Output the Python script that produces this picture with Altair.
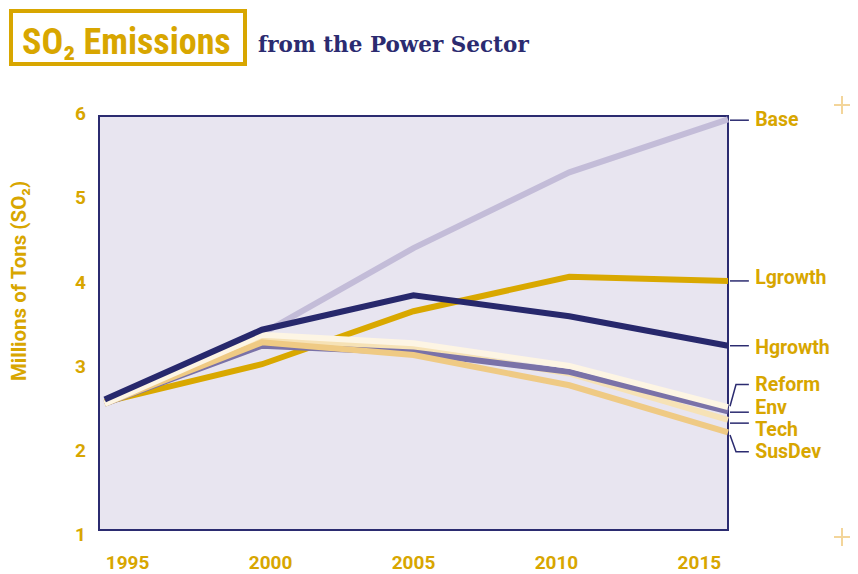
import altair as alt
import pandas as pd

# ---- data ----
years = [1994.2, 1999.7, 2005.0, 2010.45, 2016.0]
# drawing order (bottom to top)
series_names = ["Base", "Lgrowth", "Tech", "Env", "SusDev", "Reform", "Hgrowth"]
base = [2.51, 3.33, 4.35, 5.25, 5.88]
lgrowth = [2.52, 2.97, 3.60, 4.01, 3.96]
tech = [2.50, 3.27, 3.16, 2.86, 2.31]
env = [2.50, 3.19, 3.11, 2.88, 2.41]
susdev = [2.50, 3.23, 3.08, 2.72, 2.16]
reform = [2.50, 3.32, 3.22, 2.95, 2.46]
hgrowth = [2.55, 3.38, 3.79, 3.54, 3.19]
series_colors = ["#c3bcd8", "#d9a800", "#f6e2b6", "#7a72a8", "#efca84", "#fdf5e4", "#27286c"]

label_names = ["Base", "Lgrowth", "Hgrowth", "Reform", "Env", "Tech", "SusDev"]
label_y = [5.87, 3.99, 3.16, 2.72, 2.45, 2.19, 1.93]
leader_start = [5.87, 3.96, 3.19, 2.47, 2.40, 2.27, 2.13]
leader_end = [5.87, 3.96, 3.19, 2.73, 2.40, 2.27, 1.93]
leader_x = [2016.07, 2016.28, 2016.73]
label_x = 2016.95

y_ticks = [1, 2, 3, 4, 5, 6]
x_ticks = [1995, 2000, 2005, 2010, 2015]

GOLD = "#d8a600"
NAVY = "#2b2b70"
FONT = "Roboto, sans-serif"
TITLE_FONT = "Liberation Sans Narrow, Roboto Condensed, Roboto, sans-serif"

xscale = alt.Scale(domain=[1994, 2016], nice=False, zero=False)
yscale = alt.Scale(domain=[1, 5.92], nice=False, zero=False)

values = {"Base": base, "Lgrowth": lgrowth, "SusDev": susdev, "Tech": tech,
          "Env": env, "Reform": reform, "Hgrowth": hgrowth}

layers = []

# grid layer
grid_df = pd.DataFrame({"x": x_ticks})
axis_layer = alt.Chart(grid_df).mark_point(opacity=0).encode(
    x=alt.X("x:Q", scale=xscale, axis=None),
    y=alt.Y(datum=3, scale=yscale, axis=alt.Axis(
        values=[2, 3, 4, 5], grid=True, gridColor="#3c3c82", gridWidth=1.5,
        labels=False, ticks=False, domain=False, title=None)),
)
layers.append(axis_layer)

for name, col in zip(series_names, series_colors):
    df = pd.DataFrame({"year": years, "value": values[name]})
    layers.append(
        alt.Chart(df).mark_line(color=col, strokeWidth=6, strokeCap="butt", strokeJoin="miter").encode(
            x=alt.X("year:Q", scale=xscale, axis=None),
            y=alt.Y("value:Q", scale=yscale, axis=None),
        )
    )

# leader lines
rows = []
for n, s, e in zip(label_names, leader_start, leader_end):
    rows.append({"s": n, "x": leader_x[0], "y": s, "o": 0})
    rows.append({"s": n, "x": leader_x[1], "y": e, "o": 1})
    rows.append({"s": n, "x": leader_x[2], "y": e, "o": 2})
lead_df = pd.DataFrame(rows)
layers.append(
    alt.Chart(lead_df).mark_line(color=NAVY, strokeWidth=1.5).encode(
        x=alt.X("x:Q", scale=xscale, axis=None),
        y=alt.Y("y:Q", scale=yscale, axis=None),
        detail="s:N", order="o:Q",
    )
)

# series labels
lab_df = pd.DataFrame({"name": label_names, "y": label_y, "x": [label_x] * len(label_names)})
layers.append(
    alt.Chart(lab_df).mark_text(align="left", baseline="middle", font=FONT, fontSize=19.5,
                                fontWeight="bold", color=GOLD).encode(
        x=alt.X("x:Q", scale=xscale, axis=None),
        y=alt.Y("y:Q", scale=yscale, axis=None),
        text="name:N",
    )
)

# y tick labels
yt_df = pd.DataFrame({"v": y_ticks, "t": [str(v) for v in y_ticks]})
layers.append(
    alt.Chart(yt_df).mark_text(align="right", baseline="middle", dy=5, font=FONT, fontSize=19,
                               fontWeight="bold", color=GOLD).encode(
        x=alt.value(-13),
        y=alt.Y("v:Q", scale=yscale, axis=None),
        text="t:N",
    )
)

# x tick labels
xt_df = pd.DataFrame({"v": x_ticks, "t": [str(v) for v in x_ticks]})
layers.append(
    alt.Chart(xt_df).mark_text(align="center", baseline="middle", font=FONT, fontSize=19,
                               fontWeight="bold", color=GOLD).encode(
        x=alt.X("v:Q", scale=xscale, axis=None),
        y=alt.value(447),
        text="t:N",
    )
)

# y axis title
layers.append(
    alt.Chart(pd.DataFrame({"t": ["Millions of Tons (SO₂)"]})).mark_text(
        angle=270, align="center", baseline="middle", font=FONT, fontSize=20.5,
        fontWeight="bold", color=GOLD).encode(
        x=alt.value(-79), y=alt.value(165), text="t:N")
)

# title box + titles
layers.append(
    alt.Chart(pd.DataFrame({"a": [0]})).mark_rect(filled=False, stroke=GOLD, strokeWidth=4).encode(
        x=alt.value(-88), x2=alt.value(146), y=alt.value(-105), y2=alt.value(-52))
)
layers.append(
    alt.Chart(pd.DataFrame({"t": ["SO₂ Emissions"]})).mark_text(
        align="left", baseline="alphabetic", font=TITLE_FONT, fontSize=36, fontWeight="bold", color=GOLD).encode(
        x=alt.value(-77), y=alt.value(-62), text="t:N")
)
layers.append(
    alt.Chart(pd.DataFrame({"t": ["from the Power Sector"]})).mark_text(
        align="left", baseline="alphabetic", font="DejaVu Serif", fontSize=21.5, fontWeight="bold",
        color=NAVY).encode(
        x=alt.value(159), y=alt.value(-64), text="t:N")
)

# decorative crosshairs
for cy in [-11, 421]:
    layers.append(
        alt.Chart(pd.DataFrame({"a": [0]})).mark_rule(color="#f3d59a", strokeWidth=2).encode(
            x=alt.value(735), x2=alt.value(751), y=alt.value(cy))
    )
    layers.append(
        alt.Chart(pd.DataFrame({"a": [0]})).mark_rule(color="#f3d59a", strokeWidth=2).encode(
            x=alt.value(743), y=alt.value(cy - 9), y2=alt.value(cy + 9))
    )

chart = alt.layer(*layers).properties(
    width=629, height=414,
    autosize=alt.AutoSizeParams(type="none"),
    padding={"left": 91, "top": 108, "right": 122, "bottom": 44},
    background="white",
).configure_view(fill="#e8e5f0", stroke=NAVY, strokeWidth=2)

chart.save("out.html", embed_options={"renderer": "svg", "actions": False})
